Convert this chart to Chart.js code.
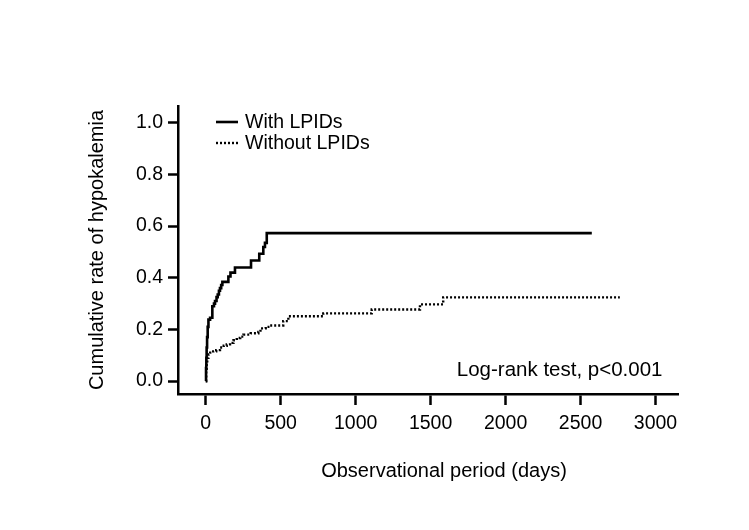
<!DOCTYPE html>
<html>
<head>
<meta charset="utf-8">
<script src="https://cdn.jsdelivr.net/npm/chart.js@4"></script>
<style>
  body { margin: 0; background: #fff; }
  canvas { display: block; }
</style>
</head>
<body>
<canvas id="kmChart" width="749" height="530"></canvas>
<script>
// Kaplan-Meier style cumulative incidence
const withDays = [0, 2, 4, 6, 9, 13, 18, 29, 44, 55, 62, 72, 80, 88, 95, 103, 111, 151, 165, 195, 302, 357, 384, 395, 407, 2575];
const withRate = [0, 0.05, 0.09, 0.13, 0.17, 0.21, 0.238, 0.245, 0.29, 0.30, 0.31, 0.325, 0.335, 0.35, 0.36, 0.372, 0.384, 0.405, 0.42, 0.44, 0.467, 0.493, 0.519, 0.535, 0.573, 0.573];

const withoutDays = [0, 3, 6, 10, 18, 30, 50, 70, 95, 120, 140, 162, 185, 207, 230, 251, 300, 351, 365, 400, 429, 517, 551, 784, 1107, 1429, 1584, 2762];
const withoutRate = [0, 0.04, 0.07, 0.09, 0.103, 0.11, 0.115, 0.12, 0.13, 0.137, 0.142, 0.148, 0.158, 0.167, 0.172, 0.18, 0.185, 0.19, 0.204, 0.21, 0.215, 0.232, 0.251, 0.262, 0.277, 0.297, 0.324, 0.324];

const xTicks = [0, 500, 1000, 1500, 2000, 2500, 3000];
const yTicks = [0, 0.2, 0.4, 0.6, 0.8, 1.0];

const FONT = 'Liberation Sans, Arial, Helvetica, sans-serif';
const DOTS = [2, 2];

const toPoints = (xs, ys) => xs.map((x, i) => ({x: x, y: ys[i]}));

// legend, log-rank note and x title drawn on top of the plot
const notes = {
    id: 'notes',
    afterDraw(chart) {
        const {ctx, chartArea, scales} = chart;
        ctx.save();
        ctx.font = '19.5px ' + FONT;
        ctx.fillStyle = '#000';
        ctx.strokeStyle = '#000';
        ctx.textBaseline = 'middle';

        const lx = chartArea.left + 38;
        const rows = [
            {label: 'With LPIDs', dash: [], width: 2.6, y: chartArea.top + 17},
            {label: 'Without LPIDs', dash: DOTS, width: 2.4, y: chartArea.top + 38}
        ];
        rows.forEach(r => {
            ctx.beginPath();
            ctx.lineWidth = r.width;
            ctx.setLineDash(r.dash);
            ctx.moveTo(lx, r.y - 1);
            ctx.lineTo(lx + 22, r.y - 1);
            ctx.stroke();
            ctx.fillText(r.label, lx + 29, r.y);
        });

        ctx.setLineDash([]);
        ctx.textAlign = 'right';
        ctx.font = '20.5px ' + FONT;
        ctx.fillText('Log-rank test, p<0.001', scales.x.getPixelForValue(3000) + 7, chartArea.bottom - 24);

        // x axis title sits a little right of the axis centre in the original
        ctx.textAlign = 'center';
        ctx.font = '20px ' + FONT;
        ctx.fillText('Observational period (days)', (chartArea.left + chartArea.right) / 2 + 16, chartArea.bottom + 77);
        ctx.restore();
    }
};

const ctx = document.getElementById('kmChart').getContext('2d');

new Chart(ctx, {
    type: 'line',
    data: {
        datasets: [{
            label: 'With LPIDs',
            data: toPoints(withDays, withRate),
            borderColor: '#000',
            borderWidth: 2.6,
            stepped: 'before',
            pointRadius: 0,
            fill: false
        }, {
            label: 'Without LPIDs',
            data: toPoints(withoutDays, withoutRate),
            borderColor: '#000',
            borderWidth: 2.4,
            borderDash: DOTS,
            stepped: 'before',
            pointRadius: 0,
            fill: false
        }]
    },
    options: {
        responsive: false,
        animation: false,
        devicePixelRatio: 1,
        layout: {
            padding: {top: 106, right: 71, left: 0, bottom: 0}
        },
        plugins: {
            legend: {display: false},
            tooltip: {enabled: false}
        },
        scales: {
            x: {
                type: 'linear',
                min: -185,
                max: 3150,
                afterFit: s => { s.height = 136; },
                afterBuildTicks: s => { s.ticks = xTicks.map(v => ({value: v})); },
                grid: {
                    drawOnChartArea: false,
                    drawTicks: true,
                    tickLength: 11,
                    tickWidth: 2.5,
                    tickColor: '#000'
                },
                border: {display: true, color: '#000', width: 2.5},
                ticks: {
                    color: '#000',
                    font: {family: FONT, size: 19.5},
                    padding: 7,
                    maxRotation: 0,
                    callback: v => String(v)
                },
                title: {display: false}
            },
            y: {
                type: 'linear',
                min: -0.05,
                max: 1.065,
                afterFit: s => { s.width = 178; },
                afterBuildTicks: s => { s.ticks = yTicks.map(v => ({value: v})); },
                grid: {
                    drawOnChartArea: false,
                    drawTicks: true,
                    tickLength: 10,
                    tickWidth: 2.5,
                    tickColor: '#000'
                },
                border: {display: true, color: '#000', width: 2.5},
                ticks: {
                    color: '#000',
                    font: {family: FONT, size: 19.5},
                    padding: 5,
                    callback: v => v.toFixed(1)
                },
                title: {
                    display: true,
                    text: 'Cumulative rate of hypokalemia',
                    color: '#000',
                    font: {family: FONT, size: 20},
                    padding: {top: 85, bottom: 0}
                }
            }
        }
    },
    plugins: [notes]
});
</script>
</body>
</html>
